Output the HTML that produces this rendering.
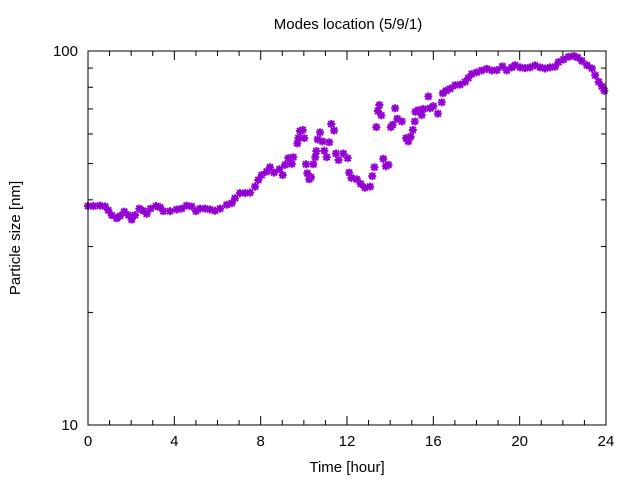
<!DOCTYPE html>
<html><head><meta charset="utf-8"><style>
body{margin:0;background:#fff}
svg text{font-family:"Liberation Sans",sans-serif;font-size:15px;fill:#000}
</style></head><body>
<svg id="chart" width="640" height="480" viewBox="0 0 640 480" xmlns="http://www.w3.org/2000/svg">
<rect width="640" height="480" fill="#fff"/>
<text x="348" y="29" text-anchor="middle">Modes location (5/9/1)</text>
<text x="347" y="472" text-anchor="middle">Time [hour]</text>
<text transform="translate(20,238) rotate(-90)" text-anchor="middle">Particle size [nm]</text>
<g id="ticks"></g>
<g id="points"></g>
<rect x="88" y="51" width="518" height="374" fill="none" stroke="#000" stroke-width="1"/>
</svg>
<script>
const hours=[0,0.25,0.55,0.79,0.94,1.1,1.33,1.48,1.68,1.87,2.02,2.18,2.38,2.56,2.72,2.9,3.15,3.34,3.49,3.8,4.11,4.34,4.57,4.8,5.0,5.19,5.42,5.65,5.88,6.12,6.43,6.66,6.81,7.04,7.28,7.51,7.74,7.89,8.05,8.28,8.43,8.62,8.87,9.02,9.13,9.28,9.44,9.51,9.7,9.75,9.82,9.95,10.02,10.1,10.16,10.25,10.33,10.44,10.53,10.58,10.64,10.75,10.86,10.95,11.06,11.18,11.27,11.4,11.49,11.61,11.83,12.03,12.1,12.2,12.45,12.64,12.83,13.07,13.17,13.27,13.36,13.43,13.5,13.59,13.68,13.8,13.92,14.03,14.12,14.23,14.33,14.54,14.74,14.84,14.95,15.05,15.14,15.17,15.31,15.46,15.54,15.77,15.85,16.0,16.21,16.39,16.44,16.59,16.78,17.01,17.24,17.47,17.62,17.78,18.01,18.24,18.48,18.71,18.94,19.2,19.4,19.63,19.79,20.02,20.25,20.48,20.71,20.95,21.18,21.41,21.64,21.8,22.03,22.26,22.5,22.68,22.88,23.12,23.35,23.5,23.66,23.81,23.92];
const sizes=[38.5,38.5,38.6,38.4,37.5,36.4,35.7,36.2,37.2,36.4,35.4,36.4,37.9,37.4,36.7,37.9,38.5,38.2,37.3,37.3,37.7,37.9,38.6,38.4,37.3,37.9,37.9,37.7,37.4,37.9,38.8,39.2,40.4,41.7,41.7,41.8,43.4,45.2,46.6,47.6,48.9,47.3,48.3,46.6,49.6,51.7,49.9,52.0,56.6,58.5,61.1,61.5,58.5,49.8,47.1,45.4,46.0,49.8,52.0,54.0,58.0,60.6,57.3,54.1,52.0,57.0,63.8,61.3,53.2,51.1,53.2,51.7,47.3,45.8,45.4,44.1,43.1,43.4,46.3,48.9,62.6,69.1,71.7,67.3,51.5,49.2,49.6,62.6,63.5,70.3,65.9,64.8,58.5,57.3,59.0,61.5,64.8,68.8,69.5,67.4,70.0,75.6,70.3,71.2,68.0,72.9,77.1,78.3,79.3,81.0,81.3,82.7,84.7,86.8,87.7,88.7,89.6,88.7,88.9,91.0,88.7,90.4,91.6,90.4,90.0,90.4,91.5,90.4,89.8,90.4,90.8,93.4,94.9,96.5,97.0,96.1,94.1,91.6,89.8,86.1,82.7,80.4,78.3];
const xTickLabels=["0","4","8","12","16","20","24"];
const yTickLabels=["10","100"];
const X0=88,X1=606,Y0=425,Y1=51;
function xs(h){return X0+(X1-X0)*h/24;}
function ys(v){return Y0-(Y0-Y1)*(Math.log10(v)-1);}
const NS="http://www.w3.org/2000/svg";
const tg=document.getElementById('ticks');
function line(x1,y1,x2,y2,g){const l=document.createElementNS(NS,'line');l.setAttribute('x1',x1);l.setAttribute('y1',y1);l.setAttribute('x2',x2);l.setAttribute('y2',y2);l.setAttribute('stroke','#000');


g.appendChild(l);}
for(let h=0;h<=24;h++){const x=xs(h);const len=h%4===0?9:5;line(x,Y0,x,Y0-len,tg);line(x,Y1,x,Y1+len,tg);}
xTickLabels.forEach(s=>{const t=document.createElementNS(NS,'text');t.setAttribute('x',xs(+s));t.setAttribute('y',446);t.setAttribute('text-anchor','middle');t.textContent=s;


tg.appendChild(t);});
for(let v=10;v<=100;v+=10){const y=ys(v);const len=(v===10||v===100)?9:5;line(X0,y,X0+len,y,tg);line(X1,y,X1-len,y,tg);}
yTickLabels.forEach(s=>{const t=document.createElementNS(NS,'text');t.setAttribute('x',78);t.setAttribute('y',ys(+s)+5);t.setAttribute('text-anchor','end');t.textContent=s;


tg.appendChild(t);});
const pg=document.getElementById('points');
hours.forEach((h,i)=>{const x=xs(h),y=ys(sizes[i]);const p=document.createElementNS(NS,'path');
p.setAttribute('d',`M${x-4},${y}H${x+4}M${x},${y-4}V${y+4}M${x-3},${y-3}L${x+3},${y+3}M${x-3},${y+3}L${x+3},${y-3}`);
p.setAttribute('stroke','#9400d3');p.setAttribute('stroke-width','2');


pg.appendChild(p);});
</script>
</body></html>
